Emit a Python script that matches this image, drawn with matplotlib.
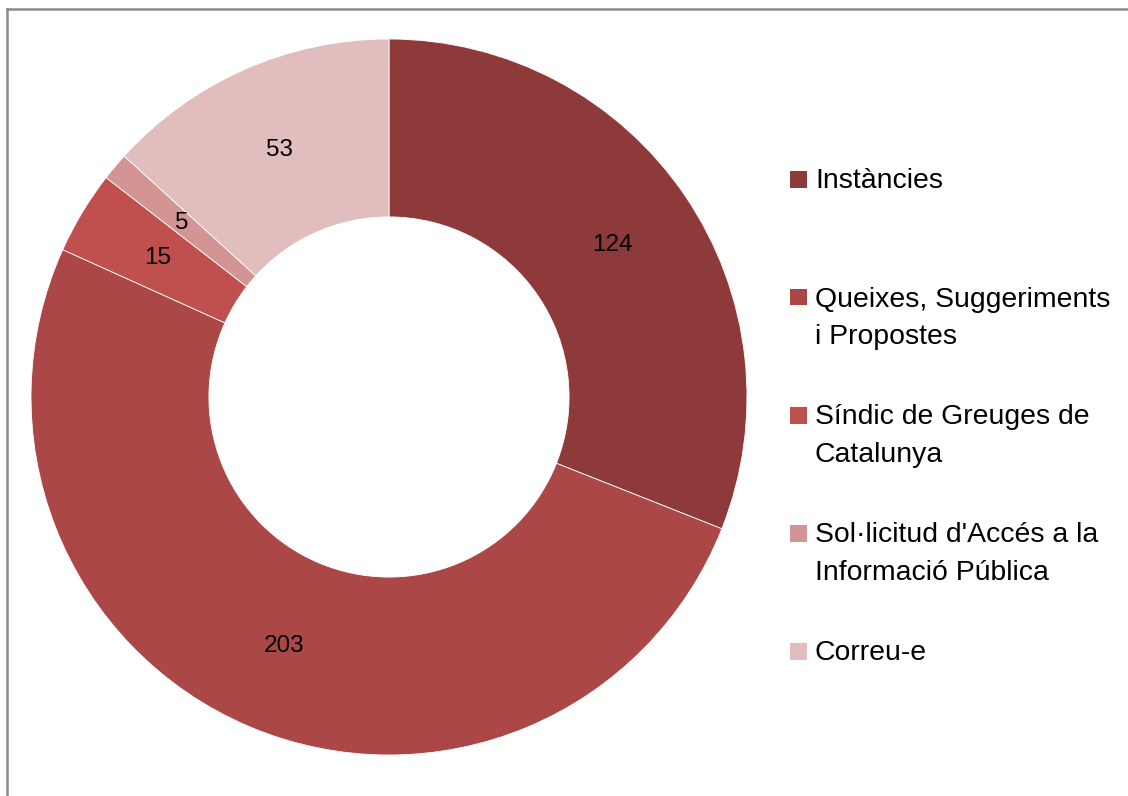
import matplotlib.pyplot as plt
from matplotlib.lines import Line2D
from matplotlib.patches import Rectangle

plt.rcParams['font.family'] = ['Liberation Sans', 'DejaVu Sans']

categories = ['Instàncies', 'Queixes, Suggeriments\ni Propostes', 'Síndic de Greuges de\nCatalunya',
              "Sol·licitud d'Accés a la\nInformació Pública", 'Correu-e']
values = [124, 203, 15, 5, 53]
colors = ['#8e3a3a', '#ab4747', '#c0504d', '#d39494', '#e2bdbd']

W, H = 1128, 796
fig = plt.figure(figsize=(W / 100, H / 100), dpi=100)

# donut centred at (389, 397) px, outer radius 358 px
cx, cy, r = 389, 397, 358
ax = fig.add_axes([(cx - r) / W, (H - cy - r) / H, 2 * r / W, 2 * r / H])
wedges, _, autotexts = ax.pie(
    values, colors=colors, startangle=90, counterclock=False, radius=1,
    autopct=lambda p: f'{round(p * sum(values) / 100):d}', pctdistance=0.755,
    wedgeprops=dict(width=0.497, edgecolor='white', linewidth=0.6),
    textprops=dict(fontsize=17.5, color='black'))
ax.set_xlim(-1, 1)
ax.set_ylim(-1, 1)
ax.set_aspect('equal')
ax.axis('off')

# legend, placed by hand like Excel does (uniform entry spacing)
x_box, x_txt = 790, 815
y0, step, line_h = 179, 118, 38
for i, (lab, col) in enumerate(zip(categories, colors)):
    y = y0 + i * step
    fig.patches.append(Rectangle((x_box / W, (H - y - 8.5) / H), 17 / W, 17 / H,
                                 transform=fig.transFigure, facecolor=col, edgecolor='none'))
    for k, line in enumerate(lab.split('\n')):
        base = y + 9.5 + k * line_h
        fig.text(x_txt / W, (H - base) / H, line, fontsize=20.4, va='baseline', ha='left')

# chart border (left and top visible)
fig.add_artist(Line2D([7 / W, 7 / W], [0, (H - 9) / H], color='#8a8a8a', linewidth=1.8,
                      transform=fig.transFigure))
fig.add_artist(Line2D([7 / W, 1], [(H - 9) / H, (H - 9) / H], color='#8a8a8a', linewidth=1.8,
                      transform=fig.transFigure))

fig.savefig('out.png', dpi=100, facecolor='white')
